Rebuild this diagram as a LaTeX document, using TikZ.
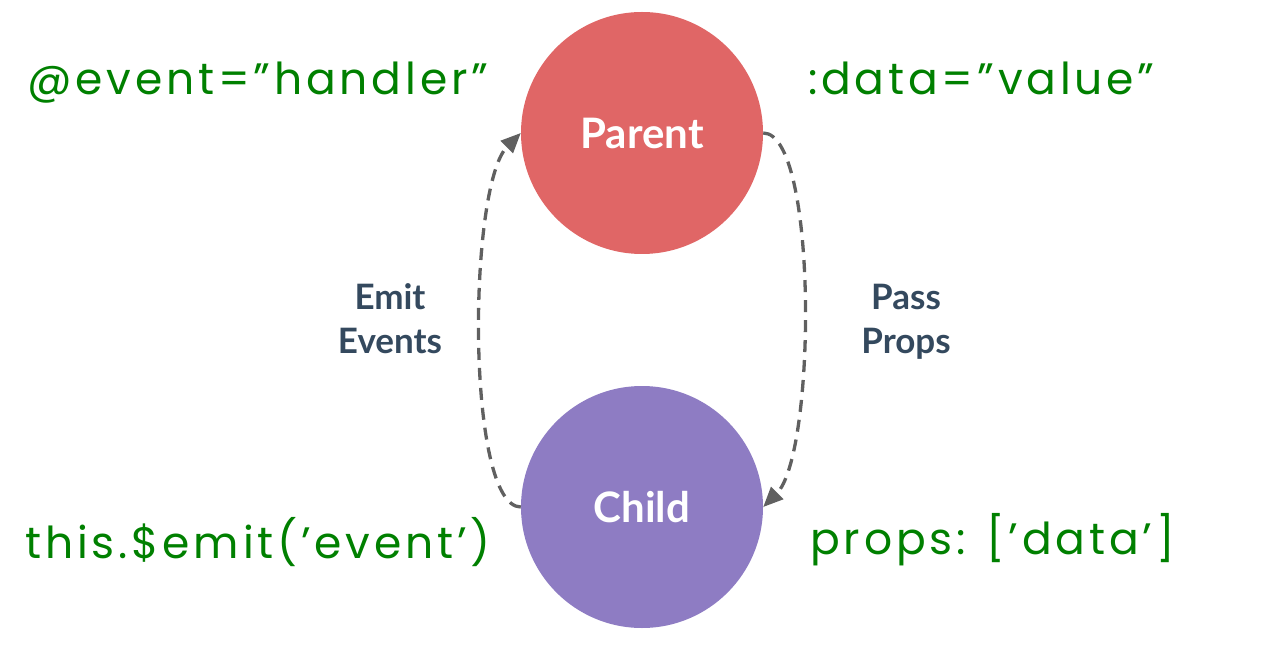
\documentclass[tikz,border=0pt]{standalone}
\usepackage{fontspec}
\usetikzlibrary{arrows.meta}
\newfontfamily\codefont[LetterSpace=8.7]{Poppins}
\newfontfamily\labelfont{Lato}
\definecolor{parentred}{RGB}{224,102,102}
\definecolor{childpurple}{RGB}{142,124,195}
\definecolor{codegreen}{RGB}{0,128,0}
\definecolor{labelslate}{RGB}{52,73,94}
\definecolor{arrowgray}{RGB}{96,96,96}
\begin{document}
\begin{tikzpicture}[x=1pt,y=1pt,
  ball/.style={circle, minimum size=242pt, inner sep=0pt, text=white,
    font=\labelfont\bfseries\fontsize{42}{50}\selectfont},
  code/.style={anchor=base west, inner sep=0pt, text=codegreen,
    font=\codefont\fontsize{44}{52}\selectfont},
  lbl/.style={anchor=base, inner sep=0pt, text=labelslate,
    font=\labelfont\bfseries\fontsize{35}{43}\selectfont},
  flow/.style={draw=arrowgray, line width=3.3pt, dash pattern=on 12pt off 8pt,
    -{Triangle[length=20pt,width=17pt]}}
]
\useasboundingbox (0,0) rectangle (1276,646);
\node[ball, fill=parentred] (P) at (642,513) {Parent};
\node[ball, fill=childpurple] (C) at (642,139) {Child};
\node[code] (ev) at (27,551) {@event=”handler”};
\node[code] (dv) at (808,551) {:data=”value”};
\node[code] (em) at (25,88) {this.\$emit(’event’)};
\node[code] (pr) at (810,92) {props: [’data’]};
\node[lbl] (emit) at (390,336) {Emit};
\node[lbl] (events) at (390,293) {Events};
\node[lbl] (pass) at (906,336) {Pass};
\node[lbl] (props) at (906,293) {Props};
\draw[flow] (C.west) .. controls +(180:55) and +(225:75) .. (P.west);
\draw[flow] (P.east) .. controls +(0:55) and +(45:75) .. (C.east);
\end{tikzpicture}
\end{document}
